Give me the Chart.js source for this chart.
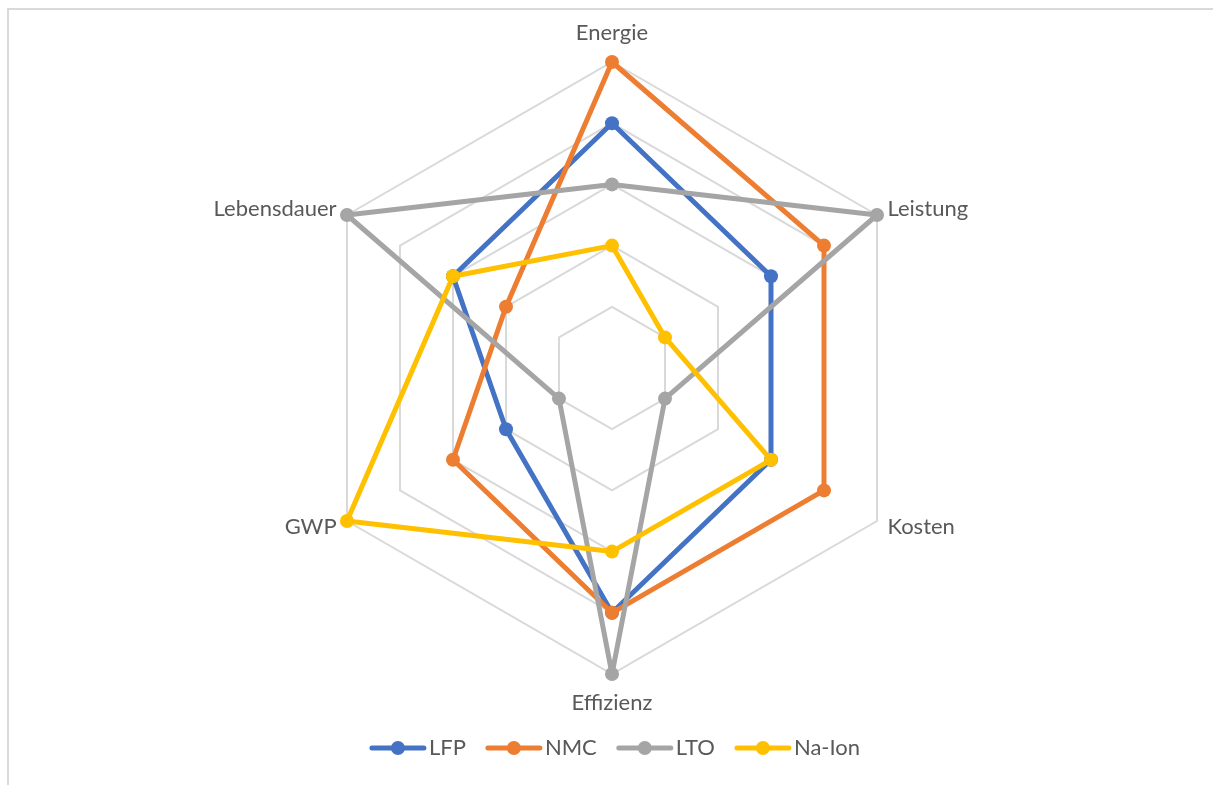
<!DOCTYPE html>
<html lang="de">
<head>
<meta charset="utf-8">
<title>Batterietechnologien im Vergleich</title>
<script src="https://cdn.jsdelivr.net/npm/chart.js@4.4.1/dist/chart.umd.min.js"></script>
<style>
  html, body { margin: 0; padding: 0; background: #ffffff; overflow: hidden; }
  #wrap { position: relative; width: 1213px; height: 785px; overflow: hidden; }
  #frame { position: absolute; left: 7px; top: 8px; right: 0; bottom: 0;
           border-style: solid; border-color: #d9d9d9; border-width: 2px 0 0 2px; }
  #chart { position: absolute; left: 0; top: 0; }
</style>
</head>
<body>
<div id="wrap">
  <div id="frame"></div>
  <canvas id="chart" width="1213" height="785"></canvas>
</div>
<script>
// Bewertungskriterien (Skala 0–5)
const categories = ['Energie', 'Leistung', 'Kosten', 'Effizienz', 'GWP', 'Lebensdauer'];

// Bewertungen je Zelltechnologie
const lfp   = [4, 3, 3, 4, 2, 3];
const nmc   = [5, 4, 4, 4, 3, 2];
const lto   = [3, 5, 1, 5, 1, 5];
const naIon = [2, 1, 3, 3, 5, 3];

const seriesNames  = ['LFP', 'NMC', 'LTO', 'Na-Ion'];
const seriesColors = ['#4472C4', '#ED7D31', '#A5A5A5', '#FFC000'];

const scaleMin = 0;
const scaleMax = 5;
const scaleStep = 1;

const FONT = 'Lato, "Liberation Sans", sans-serif';
const TEXT_COLOR = '#595959';
const FONT_SIZE = 22;

// Achsenbeschriftungen am Außenrand des Netzes
const axisLabelPlugin = {
  id: 'axisLabels',
  afterDraw(chart) {
    const scale = chart.scales.r;
    const ctx = chart.ctx;
    ctx.save();
    ctx.font = FONT_SIZE + 'px ' + FONT;
    ctx.fillStyle = TEXT_COLOR;
    ctx.textBaseline = 'middle';
    const r = scale.drawingArea;
    categories.forEach((label, i) => {
      const angle = scale.getIndexAngle(i); // 0 = oben, im Uhrzeigersinn
      const s = Math.sin(angle);
      const vertical = Math.abs(s) < 0.01;
      const p = scale.getPointPosition(i, r + (vertical ? 29 : 12));
      if (vertical) ctx.textAlign = 'center';
      else ctx.textAlign = s > 0 ? 'left' : 'right';
      ctx.fillText(label, p.x, p.y);
    });
    ctx.restore();
  }
};

// Legende unterhalb des Diagramms: Linie mit Markierung + Name
const legendPlugin = {
  id: 'lineLegend',
  afterDraw(chart) {
    const ctx = chart.ctx;
    ctx.save();
    ctx.font = FONT_SIZE + 'px ' + FONT;
    const lineLen = 56, gapText = 3, gapItem = 20, y = 748, centerX = 615;
    const widths = seriesNames.map(n => lineLen + gapText + ctx.measureText(n).width);
    const total = widths.reduce((a, b) => a + b, 0) + gapItem * (seriesNames.length - 1);
    let x = centerX - total / 2;
    seriesNames.forEach((name, i) => {
      ctx.strokeStyle = seriesColors[i];
      ctx.fillStyle = seriesColors[i];
      ctx.lineWidth = 5;
      ctx.lineCap = 'round';
      ctx.beginPath();
      ctx.moveTo(x + 2, y);
      ctx.lineTo(x + lineLen - 2, y);
      ctx.stroke();
      ctx.beginPath();
      ctx.arc(x + lineLen / 2, y, 7, 0, Math.PI * 2);
      ctx.fill();
      ctx.fillStyle = TEXT_COLOR;
      ctx.textAlign = 'left';
      ctx.textBaseline = 'middle';
      ctx.fillText(name, x + lineLen + gapText, y);
      x += widths[i] + gapItem;
    });
    ctx.restore();
  }
};

const seriesData = [lfp, nmc, lto, naIon];

new Chart(document.getElementById('chart'), {
  type: 'radar',
  data: {
    labels: categories,
    datasets: seriesData.map((values, i) => ({
      label: seriesNames[i],
      data: values,
      borderColor: seriesColors[i],
      backgroundColor: seriesColors[i],
      pointBackgroundColor: seriesColors[i],
      pointBorderColor: seriesColors[i],
      borderWidth: 5,
      borderJoinStyle: 'round',
      pointRadius: 7,
      pointBorderWidth: 0,
      fill: false,
      order: seriesData.length - i
    }))
  },
  options: {
    responsive: false,
    animation: false,
    devicePixelRatio: 1,
    layout: { padding: { left: 306, right: 295, top: 62, bottom: 111 } },
    plugins: {
      legend: { display: false },
      tooltip: { enabled: false },
      title: { display: false }
    },
    scales: {
      r: {
        min: scaleMin,
        max: scaleMax,
        ticks: { display: false, stepSize: scaleStep },
        angleLines: { display: false },
        grid: { color: '#d9d9d9', lineWidth: 2 },
        pointLabels: { display: false }
      }
    }
  },
  plugins: [axisLabelPlugin, legendPlugin]
});
</script>
</body>
</html>
